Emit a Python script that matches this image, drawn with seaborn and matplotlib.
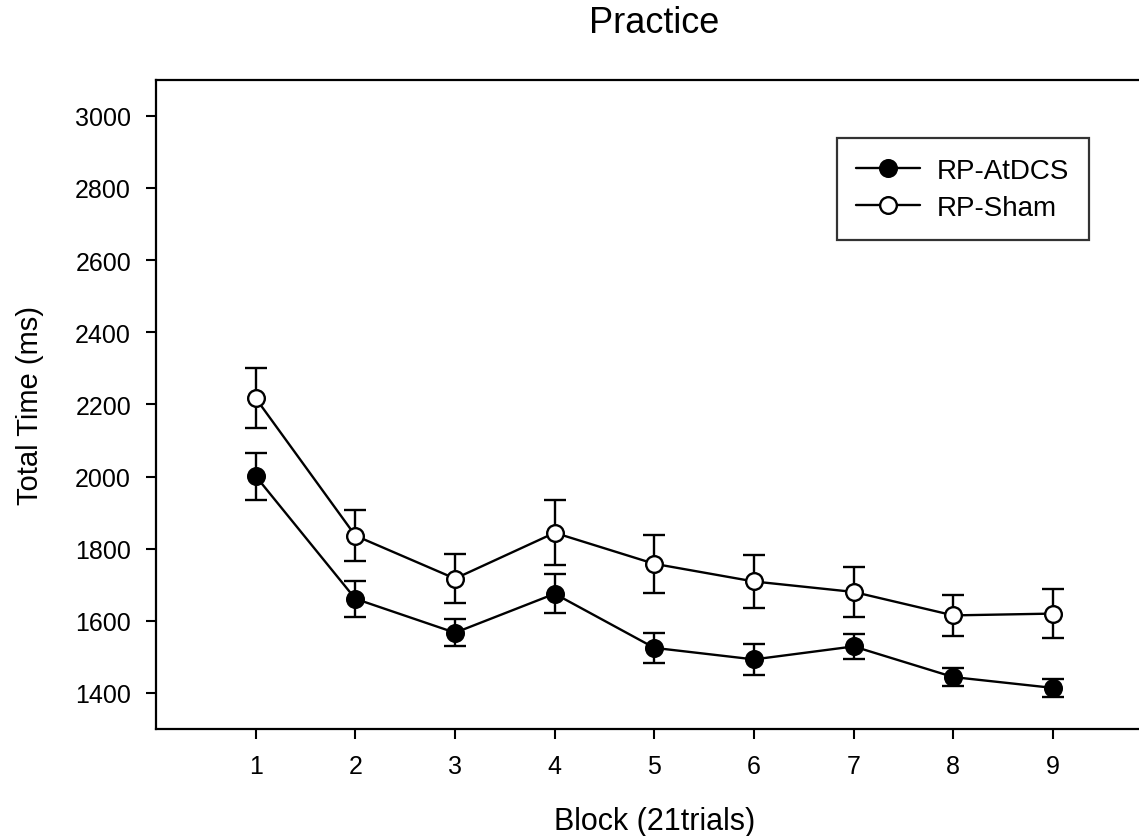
import pandas as pd
import matplotlib
matplotlib.use('Agg')
import matplotlib.pyplot as plt
import seaborn as sns

# Data (means and standard errors, ms)
blocks = [1, 2, 3, 4, 5, 6, 7, 8, 9]
atdcs_mean = [2001, 1661, 1567, 1675, 1525, 1493, 1529, 1444, 1414]
atdcs_se = [65, 50, 38, 54, 42, 42, 35, 26, 26]
sham_mean = [2217, 1836, 1717, 1844, 1758, 1709, 1680, 1615, 1620]
sham_se = [83, 71, 67, 90, 80, 74, 70, 56, 67]
groups = ['RP-AtDCS', 'RP-Sham']
y_ticks = [1400, 1600, 1800, 2000, 2200, 2400, 2600, 2800, 3000]

df = pd.DataFrame({
    'block': blocks * 2,
    'time': atdcs_mean + sham_mean,
    'se': atdcs_se + sham_se,
    'group': [groups[0]] * len(blocks) + [groups[1]] * len(blocks),
})

sns.set_style('ticks')
plt.rcParams['font.family'] = ['Liberation Sans', 'DejaVu Sans']
plt.rcParams['text.color'] = 'black'
plt.rcParams['axes.labelcolor'] = 'black'
plt.rcParams['xtick.color'] = 'black'
plt.rcParams['ytick.color'] = 'black'

fig = plt.figure(figsize=(11.39, 8.37), dpi=100)
ax = fig.add_axes([0.137, 0.1278, 0.875, 0.7758])

face = {'RP-AtDCS': 'black', 'RP-Sham': 'white'}
for g in groups:
    sub = df[df['group'] == g]
    ax.errorbar(sub['block'], sub['time'], yerr=sub['se'], fmt='none',
                ecolor='black', elinewidth=1.7, capsize=8, capthick=1.7, zorder=1)
    sns.lineplot(data=sub, x='block', y='time', color='black', linewidth=1.7,
                 marker='o', markersize=12, markerfacecolor=face[g],
                 markeredgecolor='black', markeredgewidth=1.7,
                 label=g, ax=ax, zorder=3)

ax.set_xlim(0, 10)
ax.set_ylim(1300, 3100)
ax.set_xticks(blocks)
ax.set_yticks(y_ticks)
ax.tick_params(axis='both', direction='out', length=7, width=1.5,
               labelsize=18, pad=11)
for s in ax.spines.values():
    s.set_linewidth(1.6)
    s.set_color('black')

ax.set_xlabel('Block (21trials)', fontsize=22, labelpad=20)
ax.set_ylabel('Total Time (ms)', fontsize=21, labelpad=22)
ax.set_title('Practice', fontsize=26, pad=34)

leg = ax.legend(loc='upper left', bbox_to_anchor=(0.683, 0.910), borderaxespad=0,
                fontsize=20, frameon=True, fancybox=False, handlelength=2.3,
                handletextpad=0.6, borderpad=0.7, labelspacing=0.4)
leg.get_frame().set_edgecolor('black')
leg.get_frame().set_linewidth(1.6)

fig.savefig('out.png', dpi=100)
